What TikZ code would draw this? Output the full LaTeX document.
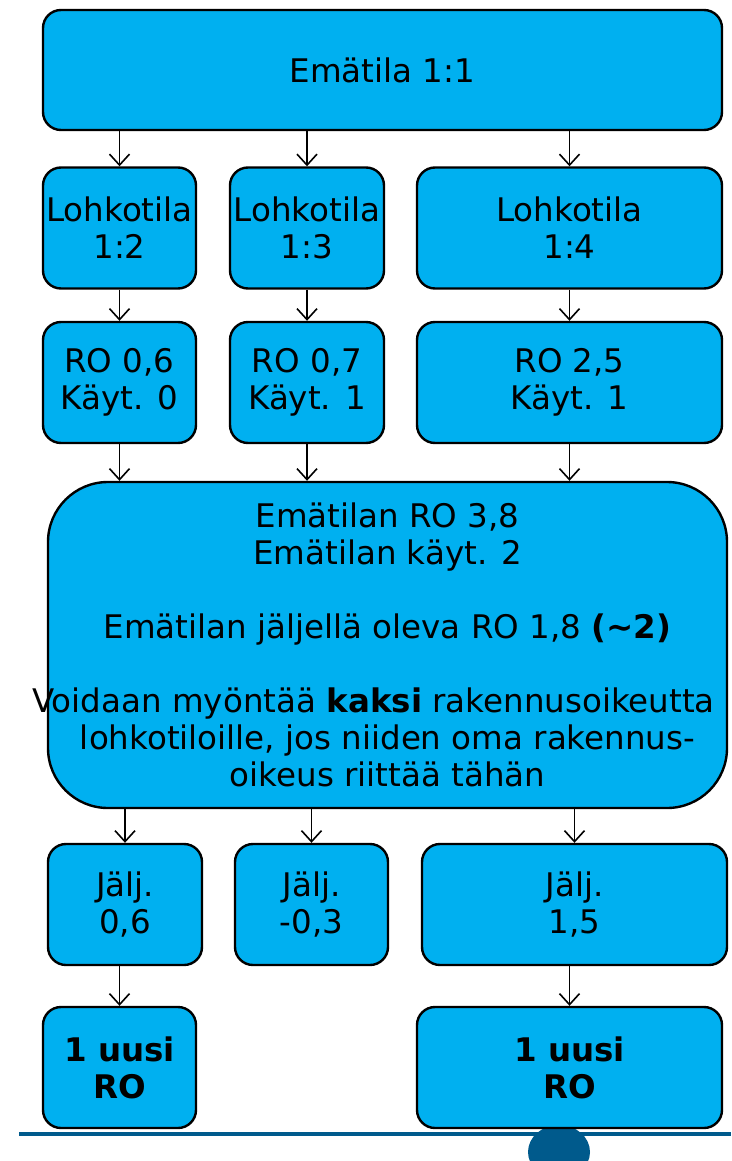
\documentclass[tikz,border=0pt]{standalone}
\usepackage{fontspec}
\setmainfont{DejaVu Sans}
\usetikzlibrary{arrows.meta}
\definecolor{boxBlue}{HTML}{00B0F0}
\definecolor{footBlue}{HTML}{005A8C}
\begin{document}
\begin{tikzpicture}
[x=1pt,y=-1pt,
  boxDecorate/.style={draw,line width=2.4pt,fill=boxBlue,rounded corners=18pt,
    align=center,inner sep=0pt,font=\fontsize{32.5}{37}\selectfont},%
  arrowDecorate/.style={line width=1.6pt,-{Straight Barb[length=11pt,width=20pt]}}]
\useasboundingbox (0,0) rectangle (731,1161);
%% footer line and dot
\fill[footBlue] (559,1152) ellipse [x radius=31, y radius=27];
\draw[footBlue,line width=4pt] (19,1134) -- (731,1134);
%% boxes
\node (ema) at (382.5,70) [boxDecorate,minimum width=679,minimum height=120] {Emätila 1:1};
\foreach \nodename/\x/\y/\w/\txt in {
  lA/119.5/228/153/{Lohkotila\\1:2}, lB/307/228/154/{Lohkotila\\1:3}, lC/569.5/228/305/{Lohkotila\\1:4},
  rA/119.5/382.5/153/{RO 0,6\\Käyt. 0}, rB/307/382.5/154/{RO 0,7\\Käyt. 1}, rC/569.5/382.5/305/{RO 2,5\\Käyt. 1},
  jA/125/904.5/154/{Jälj.\\0,6}, jB/311.5/904.5/153/{Jälj.\\-0,3}, jC/574.5/904.5/305/{Jälj.\\1,5},
  uA/119.5/1067.5/153/{\textbf{1 uusi}\\\textbf{RO}}, uC/569.5/1067.5/305/{\textbf{1 uusi}\\\textbf{RO}}}
{
  \node (\nodename) at (\x,\y) [boxDecorate,minimum width=\w,minimum height=121] {\txt};
}
\node (emaro) at (387.5,645) [boxDecorate,rounded corners=60pt,minimum width=679,minimum height=326]
  {Emätilan RO 3,8\\Emätilan käyt. 2\\[37pt]
   Emätilan jäljellä oleva RO 1,8 \textbf{(\textasciitilde2)}\\[37pt]
   \makebox[0pt]{\hspace*{-28pt}Voidaan myöntää \textbf{kaksi} rakennusoikeutta}\\
   lohkotiloille, jos niiden oma rakennus-\\oikeus riittää tähän};
%% arrows
\foreach \startnode/\endnode in {ema/lA, ema/lB, ema/lC, lA/rA, lB/rB, lC/rC,
  emaro/jA, emaro/jB, emaro/jC, jA/uA, jC/uC}
{
  \draw[arrowDecorate] (\endnode.north |- \startnode.south) -- (\endnode.north);
}
\foreach \startnode in {rA, rB, rC}
{
  \draw[arrowDecorate] (\startnode.south) -- (\startnode.south |- emaro.north);
}
\end{tikzpicture}
\end{document}
